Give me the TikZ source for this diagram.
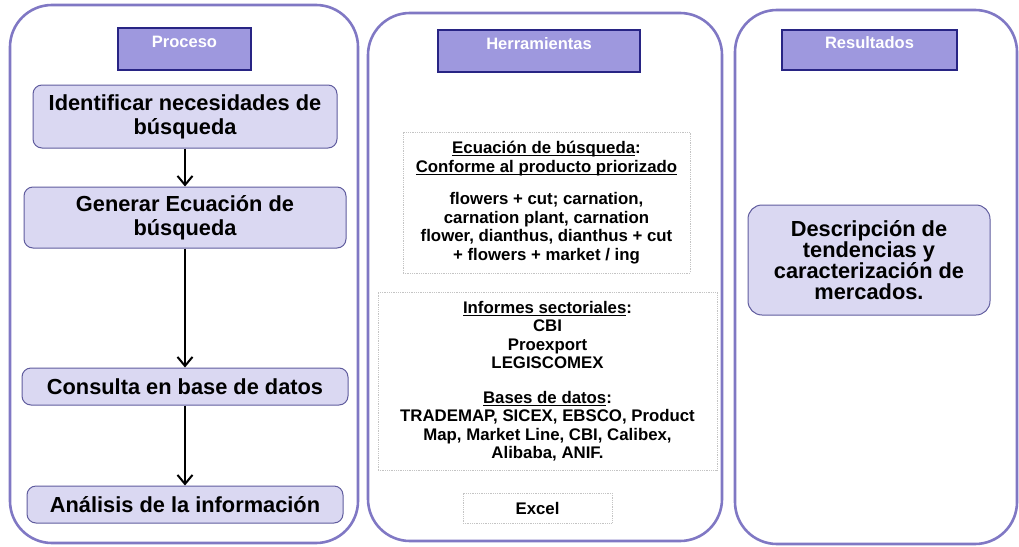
\documentclass[tikz,border=0pt]{standalone}
\usepackage{fontspec}
\setmainfont{Liberation Sans}
\usetikzlibrary{arrows.meta}
\definecolor{panelc}{RGB}{128,120,196}
\definecolor{boxfill}{RGB}{218,216,242}
\definecolor{boxdraw}{RGB}{96,92,158}
\definecolor{headfill}{RGB}{158,152,222}
\definecolor{headdraw}{RGB}{40,36,132}
\definecolor{dotc}{RGB}{196,196,196}
\newsavebox{\ulbox}
\newcommand{\ulx}[1]{\sbox{\ulbox}{#1}\rlap{\rule[-2.6pt]{\wd\ulbox}{1.1pt}}\usebox{\ulbox}}
\begin{document}
\begin{tikzpicture}[x=1pt,y=-1pt,
  panel/.style={draw=panelc,line width=2.6pt,rounded corners=42pt},
  headbox/.style={draw=headdraw,fill=headfill,line width=1.6pt,text=white,
    font=\fontsize{16.5}{18}\selectfont\bfseries,inner sep=0pt},
  procbox/.style={draw=boxdraw,fill=boxfill,line width=1pt,rounded corners=9pt,
    font=\fontsize{21.8}{24}\selectfont\bfseries,align=center,inner sep=0pt},
  toolbox/.style={draw=dotc,densely dotted,line width=0.8pt,align=center,inner sep=0pt,
    font=\fontsize{16.8}{18.5}\selectfont\bfseries},
  arr/.style={line width=2.4pt,-{Straight Barb[length=9pt,width=15pt,line width=2pt]}}
]
\useasboundingbox (0,0) rectangle (1019,546);
% panels
\draw[panel] (10,5) rectangle (358,543);
\draw[panel] (368,13) rectangle (722,541);
\draw[panel] (735,10) rectangle (1017,544);
% headers
\node[headbox,minimum width=133pt,minimum height=42pt] (h1) at (184.5,49) {\raisebox{6pt}[0.7em][0.2em]{Proceso}};
\node[headbox,minimum width=202pt,minimum height=42pt] (h2) at (539,51) {\raisebox{6pt}[0.7em][0.2em]{Herramientas}};
\node[headbox,minimum width=175pt,minimum height=40pt] (h3) at (869.5,50) {\raisebox{6pt}[0.7em][0.2em]{Resultados}};
% process
\node[procbox,minimum width=304pt,minimum height=63pt] (p1) at (185,116.5) {Identificar necesidades de\\búsqueda};
\node[procbox,minimum width=322pt,minimum height=61pt] (p2) at (185,217.5) {Generar Ecuación de\\búsqueda};
\node[procbox,minimum width=326pt,minimum height=37pt] (p3) at (185,386.5) {Consulta en base de datos};
\node[procbox,minimum width=316pt,minimum height=37pt] (p4) at (185,504.5) {Análisis de la información};
\draw[arr] (p1.south) -- (p2.north);
\draw[arr] (p2.south) -- (p3.north);
\draw[arr] (p3.south) -- (p4.north);
% tools
\node[toolbox,minimum width=287pt,minimum height=141pt] (t1) at (546.5,202.5) {\ulx{Ecuación de búsqueda}:\\\ulx{Conforme al producto priorizado}\\[14pt]flowers + cut; carnation,\\carnation plant, carnation\\flower, dianthus, dianthus + cut\\+ flowers + market / ing};
\node[toolbox,minimum width=339pt,minimum height=178pt] (t2) at (547.5,381) {\ulx{Informes sectoriales}:\\CBI\\Proexport\\LEGISCOMEX\\[16pt]\ulx{Bases de datos}:\\TRADEMAP, SICEX, EBSCO, Product\\Map, Market Line, CBI, Calibex,\\Alibaba, ANIF.};
\node[toolbox,minimum width=149pt,minimum height=30pt] (t3) at (537.5,508) {Excel};
% results
\node[procbox,rounded corners=14pt,minimum width=242pt,minimum height=110pt,
  font=\fontsize{21.8}{21}\selectfont\bfseries] (r1) at (869,260)
  {Descripción de\\tendencias y\\caracterización de\\mercados.};
\end{tikzpicture}
\end{document}
